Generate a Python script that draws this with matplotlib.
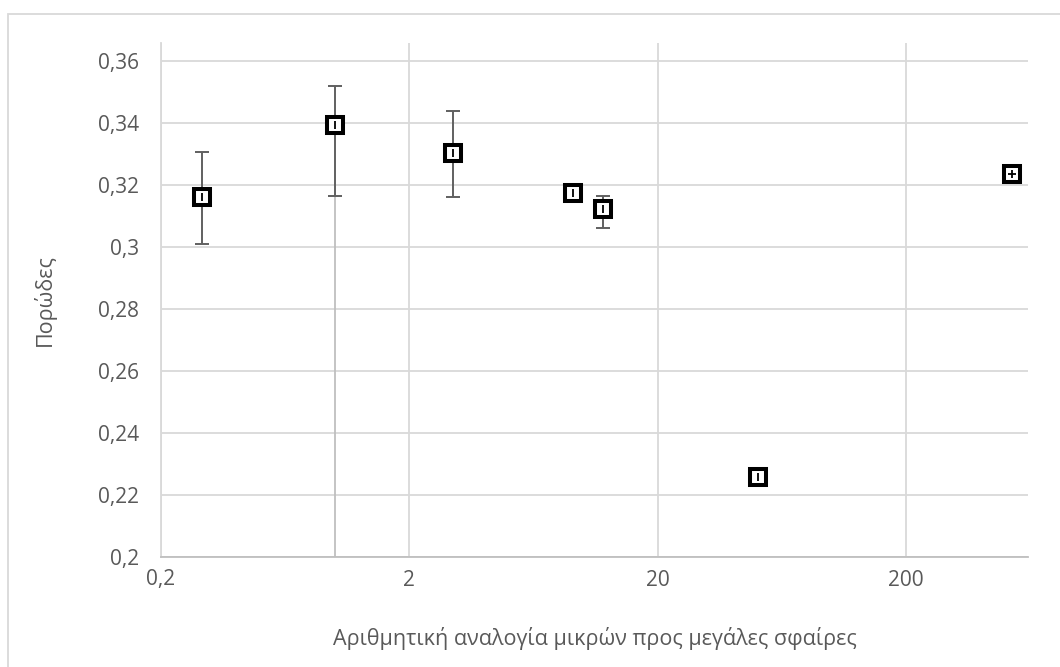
import numpy as np
import matplotlib.pyplot as plt
from matplotlib.patches import Rectangle
from matplotlib.ticker import FixedLocator, FixedFormatter, NullLocator

plt.rcParams['font.family'] = ['Open Sans', 'DejaVu Sans']

# data
ratio = np.array([0.292, 1.0, 3.0, 9.1, 12.1, 51.0, 535.0])
porosity = np.array([0.3160, 0.3395, 0.3303, 0.3174, 0.3124, 0.2257, 0.3234])
err_hi = np.array([0.3306, 0.3519, 0.3439, np.nan, 0.3165, np.nan, np.nan])
err_lo = np.array([0.3010, 0.3163, 0.3161, np.nan, 0.3061, np.nan, np.nan])

x_ticks = [0.2, 2, 20, 200]
x_labels = ["0,2", "2", "20", "200"]
y_ticks = [0.2, 0.22, 0.24, 0.26, 0.28, 0.3, 0.32, 0.34, 0.36]
y_labels = ["0,2", "0,22", "0,24", "0,26", "0,28", "0,3", "0,32", "0,34", "0,36"]

grid_c = "#d9d9d9"
text_c = "#595959"

fig = plt.figure(figsize=(10.6, 6.67), dpi=100)
ax = fig.add_axes([161 / 1060, 1 - 557 / 667, (1028 - 161) / 1060, (557 - 43) / 667])

ax.set_xscale("log")
ax.set_xlim(0.2, 621)
ax.set_ylim(0.2, 0.3658)

ax.xaxis.set_major_locator(FixedLocator(x_ticks))
ax.xaxis.set_major_formatter(FixedFormatter(x_labels))
ax.xaxis.set_minor_locator(NullLocator())
ax.yaxis.set_major_locator(FixedLocator(y_ticks))
ax.yaxis.set_major_formatter(FixedFormatter(y_labels))

ax.grid(True, color=grid_c, linewidth=1.3)
ax.set_axisbelow(True)
for s in ["top", "right"]:
    ax.spines[s].set_visible(False)
for s in ["left", "bottom"]:
    ax.spines[s].set_color(grid_c)
    ax.spines[s].set_linewidth(1.3)
ax.spines["bottom"].set_color("#bfbfbf")

ax.tick_params(axis="y", length=0, pad=16, labelsize=15, labelcolor=text_c)
ax.tick_params(axis="x", length=0, pad=9, labelsize=15, labelcolor=text_c)

# light line below the second point
ax.vlines(ratio[1], 0.2, err_lo[1], color="#bfbfbf", linewidth=1.3, zorder=1)

has_err = ~np.isnan(err_hi)
ax.errorbar(ratio[has_err], porosity[has_err],
            yerr=[porosity[has_err] - err_lo[has_err], err_hi[has_err] - porosity[has_err]],
            fmt="none", ecolor="#606060", elinewidth=1.4, capsize=5, capthick=1.4, zorder=2)

ax.plot(ratio, porosity, linestyle="none", marker="s", markersize=11.5,
        markerfacecolor="white", markeredgecolor="black", markeredgewidth=2.9, zorder=3)
ax.plot(ratio[:-1], porosity[:-1], linestyle="none", marker="|", markersize=6,
        color="black", markeredgewidth=1.3, zorder=4)
ax.plot(ratio[-1:], porosity[-1:], linestyle="none", marker="+", markersize=6,
        color="black", markeredgewidth=1.3, zorder=4)

ax.set_xlabel("Αριθμητική αναλογία μικρών προς μεγάλες σφαίρες", fontsize=15.5,
              color=text_c, labelpad=26)
ax.set_ylabel("Πορώδες", fontsize=15.5, color=text_c, labelpad=30)

fig.add_artist(Rectangle((8 / 1060, -0.5), 2, 0.5 + 1 - 14 / 667,
                         transform=fig.transFigure, fill=False,
                         edgecolor=grid_c, linewidth=1.3))

fig.savefig("out.png", dpi=100, facecolor="white")
